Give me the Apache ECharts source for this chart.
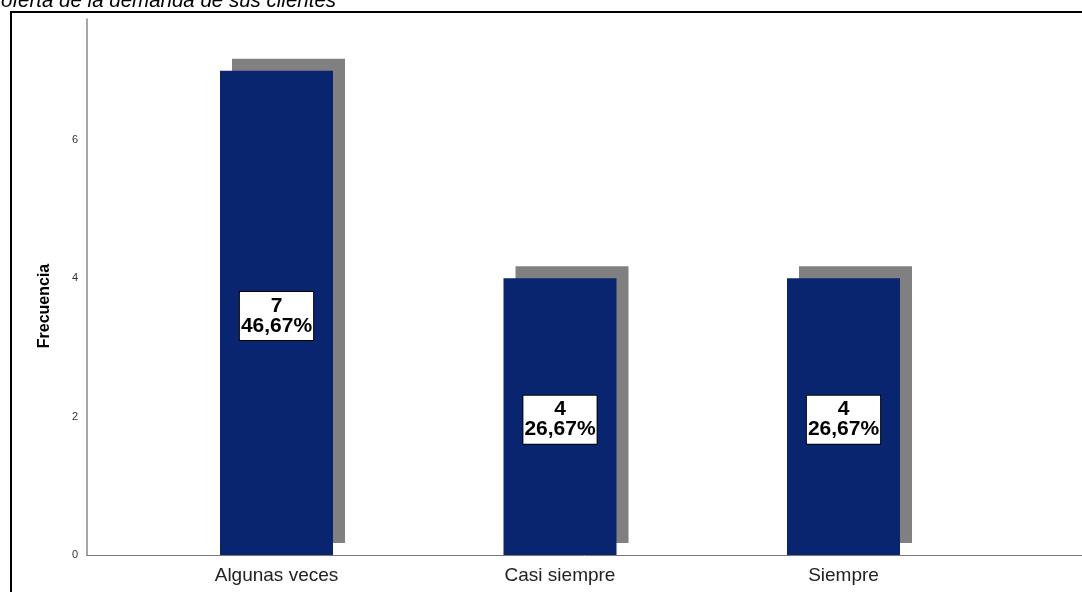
<!DOCTYPE html>
<html>
<head>
<meta charset="utf-8">
<script src="https://cdn.jsdelivr.net/npm/echarts@6/dist/echarts.min.js"></script>
<style>html,body{margin:0;padding:0;background:#fff;}#c{width:1082px;height:592px;}</style>
</head>
<body>
<div id="c"></div>
<script>
var titleText = 'oferta de la demanda de sus clientes';
var categories = ['Algunas veces', 'Casi siempre', 'Siempre'];
var counts = [7, 4, 4];
var percents = ['46,67%', '26,67%', '26,67%'];
var yTicks = [0, 2, 4, 6];

var chart = echarts.init(document.getElementById('c'), null, {renderer: 'canvas'});
var F = 'Arial, "Liberation Sans", sans-serif';
chart.setOption({
  animation: false,
  backgroundColor: '#fff',
  title: {
    text: titleText, left: -4, top: -14,
    textStyle: {fontFamily: F, fontStyle: 'italic', fontWeight: 'normal', fontSize: 20.5, color: '#000', lineHeight: 20.5}
  },
  graphic: [
    {type: 'rect', shape: {x: 11, y: 12, width: 1100, height: 620}, style: {fill: 'none', stroke: '#000', lineWidth: 2}, z: 100},
    {type: 'text', x: 45, y: 306, rotation: Math.PI / 2,
     style: {text: 'Frecuencia', font: 'bold 16px ' + F, fill: '#000', align: 'center', verticalAlign: 'middle'}}
  ],
  grid: [
    {left: 134.75, right: 96.75, top: 19, bottom: 37},
    {left: 87, right: -40, top: 19, bottom: 37}
  ],
  xAxis: [
    {type: 'category', gridIndex: 0, data: categories,
     axisLine: {show: false}, axisTick: {show: false},
     axisLabel: {fontFamily: F, fontSize: 19, color: '#222', margin: 11}},
    {type: 'value', gridIndex: 1, min: 0, max: 1,
     axisLine: {show: true, lineStyle: {color: '#777', width: 1}},
     axisTick: {show: false}, axisLabel: {show: false}, splitLine: {show: false}}
  ],
  yAxis: [
    {type: 'value', gridIndex: 0, min: 0, max: 7.75, interval: 2, show: false, splitLine: {show: false}},
    {type: 'value', gridIndex: 1, min: 0, max: 7.75, interval: 2,
     axisLine: {show: true, lineStyle: {color: '#888', width: 1.5}},
     axisTick: {show: false}, splitLine: {show: false},
     axisLabel: {fontFamily: F, fontSize: 11, color: '#333', margin: 9,
       formatter: function (v) { return yTicks.indexOf(v) >= 0 ? String(v) : ''; }}}
  ],
  series: [{
    type: 'bar', xAxisIndex: 0, yAxisIndex: 0,
    data: counts, barWidth: 113,
    itemStyle: {color: '#0a2570', shadowColor: '#808080', shadowBlur: 0, shadowOffsetX: 12, shadowOffsetY: -12},
    label: {
      show: true, position: 'inside', offset: [0, 3],
      formatter: function (p) { return counts[p.dataIndex] + '\n' + percents[p.dataIndex]; },
      fontFamily: F, fontWeight: 'bold', fontSize: 21, lineHeight: 20, color: '#000',
      backgroundColor: '#fff', borderColor: '#000', borderWidth: 1, padding: [4, 1, 4, 1]
    }
  }]
});
</script>
</body>
</html>
